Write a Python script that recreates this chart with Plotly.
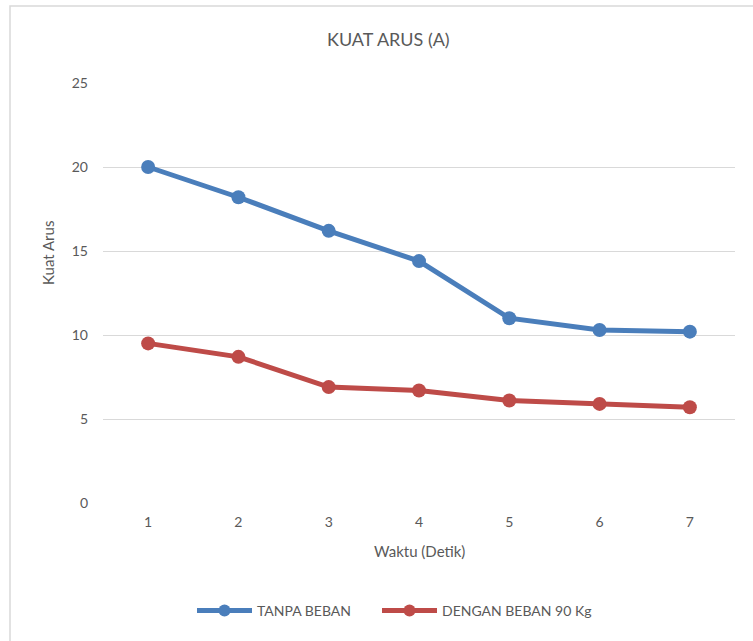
import plotly.graph_objects as go

waktu = [1, 2, 3, 4, 5, 6, 7]
tanpa_beban = [20.0, 18.2, 16.2, 14.4, 11.0, 10.3, 10.2]
dengan_beban = [9.5, 8.7, 6.9, 6.7, 6.1, 5.9, 5.7]
series_names = ["TANPA BEBAN", "DENGAN BEBAN 90 Kg"]
y_ticks = [0, 5, 10, 15, 20, 25]

FONT = "Lato, 'Open Sans', sans-serif"
GRAY = "#595959"

fig = go.Figure()
fig.add_trace(go.Scatter(x=waktu, y=tanpa_beban, name=series_names[0], mode="lines+markers",
                         line=dict(color="#4a7ebb", width=5),
                         marker=dict(color="#4a7ebb", size=14), legend="legend"))
fig.add_trace(go.Scatter(x=waktu, y=dengan_beban, name=series_names[1], mode="lines+markers",
                         line=dict(color="#be4b48", width=5),
                         marker=dict(color="#be4b48", size=14), legend="legend2"))

L, R, T, B = 103, 18, 83, 138
W, H = 753, 641
pw, ph = W - L - R, H - T - B

def px(x):
    return (x - L) / pw

def py(y):
    return (H - B - y) / ph

leg_common = dict(orientation="h", y=py(611), xanchor="left", yanchor="middle",
                  font=dict(size=14, color=GRAY), itemsizing="constant", itemwidth=55,
                  bgcolor="rgba(0,0,0,0)")

fig.update_layout(
    width=W, height=H,
    margin=dict(l=L, r=R, t=T, b=B),
    paper_bgcolor="white", plot_bgcolor="white",
    font=dict(family=FONT, color=GRAY, size=14),
    showlegend=True,
    legend=dict(x=px(192), **leg_common),
    legend2=dict(x=px(377), **leg_common),
    xaxis=dict(range=[0.5, 7.5], tickvals=waktu, ticktext=[str(v) for v in waktu],
               showgrid=False, zeroline=False, showline=False, ticks="",
               ticklabelstandoff=9, tickfont=dict(size=14, color=GRAY)),
    yaxis=dict(range=[0, 25], tickvals=y_ticks, showgrid=True, gridcolor="#d9d9d9", gridwidth=1.3,
               zeroline=False, showline=False, ticks="", ticklabelstandoff=14,
               tickfont=dict(size=14, color=GRAY)),
    shapes=[dict(type="rect", xref="paper", yref="paper",
                 x0=px(10), x1=px(770), y0=py(660), y1=py(6),
                 line=dict(color="#d9d9d9", width=1.5), fillcolor="rgba(0,0,0,0)", layer="below")],
    annotations=[
        dict(text="KUAT ARUS (A)", xref="paper", yref="paper", x=px(388), y=py(39),
             showarrow=False, font=dict(size=18, color=GRAY), xanchor="center", yanchor="middle"),
        dict(text="Waktu (Detik)", xref="paper", yref="paper", x=px(419), y=py(551),
             showarrow=False, font=dict(size=15, color=GRAY), xanchor="center", yanchor="middle"),
        dict(text="Kuat Arus", xref="paper", yref="paper", x=px(48), y=py(253),
             showarrow=False, textangle=-90, font=dict(size=15, color=GRAY),
             xanchor="center", yanchor="middle"),
    ],
)

fig.write_html("out.html", config={"displayModeBar": False},
               post_script="document.body.style.margin='0';")
